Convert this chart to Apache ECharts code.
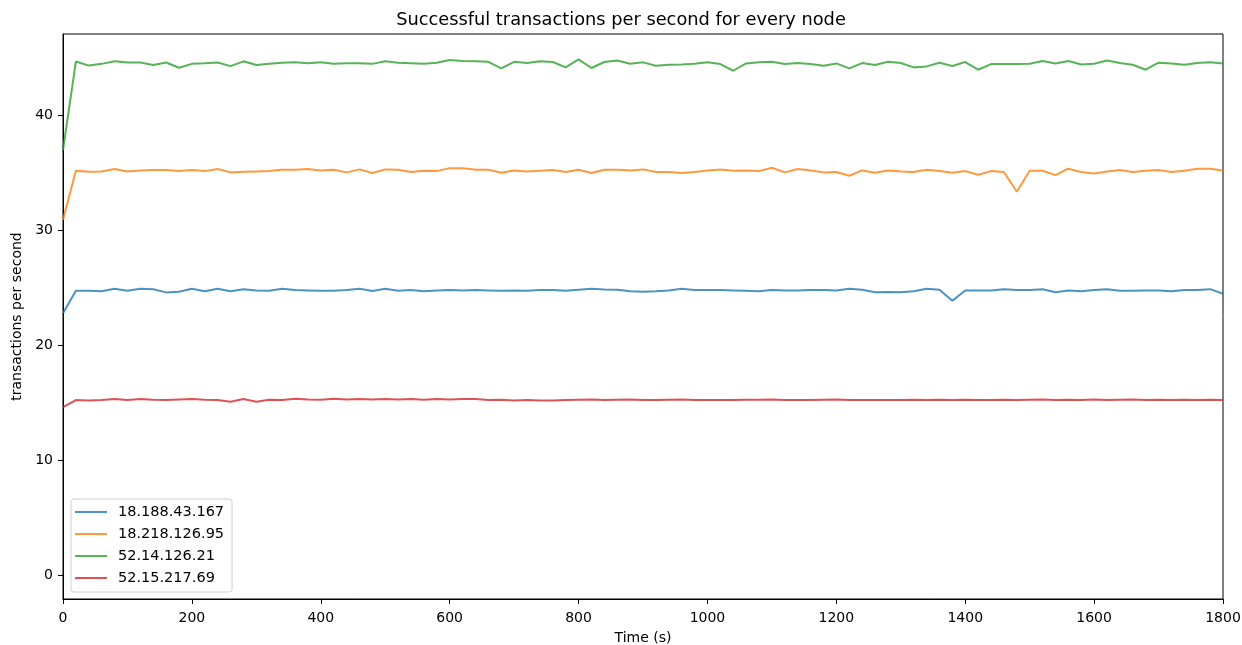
<!DOCTYPE html>
<html>
<head>
<meta charset="utf-8">
<script src="https://cdn.jsdelivr.net/npm/echarts@6/dist/echarts.min.js"></script>
<style>
html,body{margin:0;padding:0;background:#fff;}
#chart{width:1242px;height:645px;}
</style>
</head>
<body>
<div id="chart"></div>
<script>
const times = [0,20,40,60,80,100,120,140,160,180,200,220,240,260,280,300,320,340,360,380,400,420,440,460,480,500,520,540,560,580,600,620,640,660,680,700,720,740,760,780,800,820,840,860,880,900,920,940,960,980,1000,1020,1040,1060,1080,1100,1120,1140,1160,1180,1200,1220,1240,1260,1280,1300,1320,1340,1360,1380,1400,1420,1440,1460,1480,1500,1520,1540,1560,1580,1600,1620,1640,1660,1680,1700,1720,1740,1760,1780,1800];

const seriesNames = ['18.188.43.167','18.218.126.95','52.14.126.21','52.15.217.69'];

const node1 = [22.79,24.74,24.74,24.69,24.91,24.74,24.91,24.88,24.60,24.66,24.91,24.69,24.91,24.69,24.88,24.77,24.74,24.91,24.80,24.77,24.74,24.74,24.80,24.91,24.72,24.91,24.74,24.80,24.69,24.77,24.80,24.77,24.80,24.77,24.74,24.77,24.74,24.80,24.80,24.74,24.83,24.91,24.85,24.83,24.69,24.66,24.69,24.77,24.91,24.80,24.80,24.80,24.77,24.74,24.69,24.80,24.77,24.77,24.80,24.80,24.77,24.91,24.83,24.62,24.63,24.62,24.69,24.91,24.83,23.87,24.77,24.77,24.77,24.88,24.80,24.80,24.88,24.62,24.77,24.69,24.80,24.88,24.74,24.74,24.77,24.77,24.69,24.80,24.80,24.88,24.48];

const node2 = [30.92,35.19,35.10,35.13,35.34,35.13,35.22,35.25,35.25,35.16,35.25,35.16,35.34,35.05,35.10,35.13,35.16,35.28,35.28,35.34,35.22,35.28,35.05,35.31,34.99,35.31,35.28,35.08,35.19,35.16,35.42,35.42,35.28,35.28,35.02,35.22,35.13,35.19,35.25,35.08,35.28,34.99,35.28,35.28,35.22,35.31,35.08,35.08,34.99,35.08,35.22,35.31,35.19,35.22,35.16,35.45,35.05,35.34,35.22,35.05,35.08,34.76,35.22,35.02,35.22,35.13,35.08,35.28,35.16,35.02,35.16,34.84,35.16,35.08,33.36,35.19,35.19,34.81,35.37,35.08,34.96,35.13,35.25,35.08,35.19,35.25,35.08,35.19,35.37,35.37,35.22];

const node3 = [37.0,44.70,44.35,44.50,44.72,44.62,44.62,44.40,44.62,44.16,44.50,44.55,44.62,44.30,44.72,44.40,44.50,44.60,44.65,44.55,44.65,44.50,44.55,44.55,44.50,44.72,44.60,44.55,44.50,44.60,44.83,44.75,44.72,44.68,44.11,44.68,44.57,44.72,44.66,44.19,44.89,44.14,44.66,44.80,44.51,44.63,44.34,44.42,44.45,44.51,44.63,44.48,43.90,44.54,44.63,44.68,44.48,44.57,44.48,44.34,44.54,44.11,44.57,44.40,44.68,44.57,44.19,44.28,44.60,44.31,44.66,43.99,44.48,44.48,44.48,44.51,44.75,44.54,44.75,44.45,44.51,44.80,44.57,44.42,43.99,44.60,44.54,44.42,44.57,44.63,44.54];

const node4 = [14.60,15.22,15.19,15.22,15.31,15.22,15.31,15.25,15.22,15.28,15.31,15.25,15.22,15.08,15.31,15.08,15.25,15.22,15.33,15.28,15.25,15.33,15.28,15.31,15.28,15.31,15.28,15.31,15.25,15.31,15.28,15.31,15.31,15.22,15.25,15.19,15.22,15.19,15.19,15.22,15.25,15.28,15.22,15.25,15.28,15.22,15.22,15.25,15.28,15.22,15.22,15.22,15.22,15.25,15.25,15.28,15.22,15.22,15.22,15.25,15.28,15.22,15.22,15.22,15.22,15.22,15.25,15.22,15.25,15.22,15.25,15.22,15.22,15.25,15.22,15.25,15.28,15.22,15.25,15.22,15.28,15.22,15.25,15.28,15.22,15.25,15.22,15.25,15.22,15.25,15.22];

const yTicks = [0,10,20,30,40];
const colors = ['#1f77b4','#ff7f0e','#2ca02c','#d62728'];
const allData = [node1,node2,node3,node4];

const chart = echarts.init(document.getElementById('chart'), null, {renderer:'canvas'});
const font = 'DejaVu Sans';
const option = {
  animation:false,
  backgroundColor:'#fff',
  title:{
    text:'Successful transactions per second for every node',
    left:'center', top:6,
    textStyle:{fontFamily:font, fontSize:17.8, fontWeight:'normal', color:'#000'}
  },
  grid:{left:63, right:19, top:34, bottom:46, outerBoundsMode:'none', containLabel:false,
        show:true, borderColor:'#000', borderWidth:1, backgroundColor:'transparent'},
  legend:{
    orient:'vertical', left:71, top:499,
    data:seriesNames,
    icon:'rect', itemWidth:32, itemHeight:2, itemGap:6,
    padding:[5,8,6,4],
    backgroundColor:'rgba(255,255,255,0.8)',
    borderColor:'#d0d0d0', borderWidth:1, borderRadius:3,
    textStyle:{fontFamily:font, fontSize:14.5, lineHeight:16, color:'#000', padding:[0,0,0,6]}
  },
  xAxis:{
    type:'value', min:0, max:1800, interval:200,
    name:'Time (s)', nameLocation:'middle', nameGap:32,
    nameTextStyle:{fontFamily:font, fontSize:14, color:'#000'},
    axisLine:{show:true, onZero:false, lineStyle:{color:'#000', width:1}},
    axisTick:{show:true, inside:false, length:5, lineStyle:{color:'#000'}},
    axisLabel:{fontFamily:font, fontSize:14, color:'#000', margin:12, formatter:function(v){return String(v);}},
    splitLine:{show:false}
  },
  yAxis:{
    type:'value', min:-2.1, max:47.1,
    name:'transactions per second', nameLocation:'middle', nameGap:33,
    nameTextStyle:{fontFamily:font, fontSize:14, color:'#000'},
    axisLine:{show:true, onZero:false, lineStyle:{color:'#000', width:1}},
    axisTick:{show:true, inside:false, length:5, lineStyle:{color:'#000'}, customValues:yTicks},
    axisLabel:{fontFamily:font, fontSize:14, color:'#000', margin:10, customValues:yTicks},
    splitLine:{show:false}
  },
  series: seriesNames.map((n,i)=>({
    name:n, type:'line', symbol:'none', showSymbol:false,
    data: times.map((t,j)=>[t, allData[i][j]]),
    lineStyle:{color:colors[i], width:2, opacity:0.8},
    itemStyle:{color:colors[i], opacity:0.8},
    z: 2
  }))
};
chart.setOption(option);
</script>
</body>
</html>
